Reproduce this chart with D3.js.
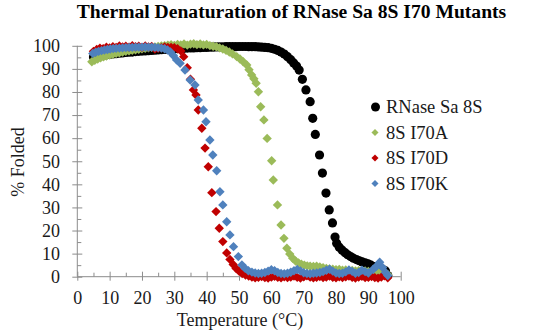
<!DOCTYPE html>
<html><head><meta charset="utf-8">
<script src="https://cdn.jsdelivr.net/npm/d3@7"></script>
<style>
body{margin:0;background:#fff}
svg{display:block}
svg text{font-family:"Liberation Serif","Times New Roman",serif !important}
</style>
</head><body>
<svg id="c" width="556" height="333"></svg>
<script>
const title = "Thermal Denaturation of RNase Sa 8S I70 Mutants";
const xTitle = "Temperature (°C)";
const yTitle = "% Folded";
const xTicks = [0,10,20,30,40,50,60,70,80,90,100];
const yTicks = [0,10,20,30,40,50,60,70,80,90,100];
const xMinor = [5,15,25,35,45,55,65,75,85,95];
const yMinor = [5,15,25,35,45,55,65,75,85,95];
const seriesNames = ["RNase Sa 8S","8S I70A","8S I70D","8S I70K"];
const seriesColors = ["#000000","#9BBB59","#C00000","#4F81BD"];

// RNase Sa 8S (black circles)
const wtT = [5,6,7,8,9,10,11,12,13,14,15,16,17,18,19,20,21,22,23,24,25,26,27,28,29,30,31,32,33,34,35,36,37,38,39,40,41,42,43,44,45,46,47,48,49,50,51,52,53,54,55,56,57,58,59,60,61,62,63,64,65,66,66.9,67.8,68.6,69.6,70.7,72.0,72.8,73.6,74.9,75.8,76.9,77.9,78.9,79.7,80.2,81.0,81.9,82.8,83.6,84.5,85.4,86.3,87.2,88.1,89.0,89.9,90.8,91.7,92.6,93.5,94.4,95.3,96.0];
const wtY = [95.2,95.5,95.7,95.9,96.1,96.3,96.5,96.6,96.8,96.9,97.1,97.2,97.3,97.5,97.6,97.7,97.8,97.9,98.0,98.1,98.2,98.3,98.4,98.5,98.6,98.7,98.8,98.9,98.9,99.0,99.1,99.1,99.2,99.2,99.3,99.3,99.4,99.4,99.5,99.5,99.5,99.6,99.6,99.6,99.6,99.7,99.7,99.7,99.6,99.6,99.6,99.5,99.4,99.3,99.2,98.9,98.5,98.0,97.3,96.4,95.3,94.0,92.6,91.2,89.5,85.5,80.9,75.8,68.6,61.6,52.7,44.9,36.2,28.9,23.3,17.2,14.5,12.8,11.5,10.4,9.5,8.7,8.0,7.4,6.9,6.4,6.0,5.6,5.0,4.4,4.0,3.6,3.2,2.5,0.5];

// 8S I70A (green diamonds)
const aT = [4.5,5.4,6.3,7.2,8.1,9,10,11,12,13,14,15,16,17,18,19,20,21,22,23,24,25,26,27,28,29,30,31,32,33,34,35,36,37,38,39,40,41,42,43,44,45,46,47,48,49.3,50.3,51.3,52.4,53.1,53.9,54.6,55.3,56.0,56.7,57.7,58.7,60.1,60.6,61.9,63.0,63.9,64.8,65.7,66.6,67.5,68.4,69.3,70.2,71.1,72,73,74,75,76,77,78,79,80,81,82,83,84,85,86,87,88,89,90,91,92,93,94,95,96];
const aY = [93.1,93.7,94.3,94.8,95.2,95.6,96.0,96.3,96.7,97.0,97.3,97.6,97.8,98.1,98.3,98.5,98.7,98.9,99.1,99.3,99.5,99.7,99.9,100.1,100.3,100.5,100.2,100.6,100.4,100.8,100.3,100.7,100.9,100.5,100.8,100.4,100.6,100.1,99.8,99.6,99.1,98.6,98.0,97.3,96.5,95.3,94.3,93.1,91.7,89.6,87.4,85.7,83.8,80.1,73.6,67.9,59.9,50.2,41.9,31.1,22.4,16.6,12.3,9.8,8.0,6.8,6.0,5.4,5.0,4.7,4.5,4.4,4.5,4.2,3.9,3.6,3.4,3.2,3.0,3.1,2.8,2.9,2.6,2.7,2.5,2.6,2.4,2.5,2.3,2.2,2.4,2.1,2.0,1.6,1.0];

// 8S I70D (red diamonds)
const dT = [5,6,7,8,9,10,11,12,13,14,15,16,17,18,19,20,21,22,23,24,25,26,27,28,29,30,31,32,32.9,34.0,35.0,35.9,36.7,37.4,38.5,39.5,40.5,41.6,42.9,43.9,45.0,46.2,47.2,48.2,49.1,50.0,51.0,52.0,53,54,55,56,57,58,59,60,61,62,63,64,65,66,67,68,69,70,71,72,73,74,75,76,77,78,79,80,81,82,83,84,85,86,87,88,89,90,91,92,93,94,95,96];
const dY = [97.6,98.4,99.0,98.8,99.4,99.1,99.6,99.3,99.9,99.5,99.8,99.4,100.0,99.6,99.8,99.3,99.9,99.5,99.7,98.6,98.9,99.2,99.5,99.3,99.3,99.2,98.7,97.8,95.3,90.5,85.5,80.9,78.7,72.2,64.3,55.7,47.6,36.4,28.2,21.0,15.2,10.3,7.5,5.3,3.6,2.4,1.4,0.7,0.3,-0.2,-0.5,-0.3,0.1,-0.4,-0.6,-0.2,0.2,-0.3,-0.5,0.0,-0.4,-0.2,0.3,-0.3,-0.6,-0.1,0.4,-0.2,-0.5,-0.3,0.1,-0.4,-0.2,0.3,-0.3,-0.5,0.0,-0.4,-0.1,0.3,-0.3,-0.6,-0.2,0.2,-0.4,-0.3,0.1,-0.4,-0.6,-0.2,0.4,-0.5];

// 8S I70K (blue diamonds)
const kT = [4.8,5.7,6.6,7.5,8.4,9.3,10.2,11.1,12,13,14,15,16,17,18,19,20,21,22,23,24,25,26,27,27.9,28.8,29.7,30.7,31.8,33.3,34.9,36.4,37.4,39.0,39.8,41.0,41.9,43.1,44.1,45.0,46.2,47.2,48.3,49.8,50.9,51.9,52.9,54,55,56,57,58,59,60,61,62,63,64,65,66,67,68,69,70,71,72,73,74,75,76,77,78,79,80,81,82,83,84,85,86,87,88,89,90,91.5,92.5,93.5,94.4,95.3,96.0];
const kY = [96.7,97.2,97.6,97.9,98.2,98.4,98.6,98.8,98.9,99.0,99.1,99.2,99.3,99.3,99.4,99.4,99.4,99.5,99.4,99.4,99.3,99.2,99.0,98.7,98.2,97.3,95.8,93.9,92.4,89.5,85.2,83.0,76.5,72.2,67.1,59.2,52.7,45.9,36.8,31.1,23.8,18.1,13.0,8.7,5.1,3.6,2.6,2.0,1.6,1.4,1.5,1.8,2.4,3.0,2.6,1.8,1.4,1.3,1.5,1.9,2.6,3.1,2.5,1.7,1.4,1.3,1.5,1.6,1.8,2.2,2.8,3.2,2.4,1.6,1.4,1.5,2.1,2.9,2.3,1.5,1.8,2.8,2.2,1.6,3.2,4.5,6.3,4.0,1.8,0.5];

const FONT = '"Liberation Serif","Times New Roman",serif';
const svg = d3.select("#c");
const x = d3.scaleLinear().domain([0,100]).range([77.3,400.7]);
const y = d3.scaleLinear().domain([0,100]).range([276.7,45.8]);
const axisColor = "#8c8c8c";
const labelColor = "#1a1a1a";

// Title
svg.append("text").attr("x",291.5).attr("y",17.8).attr("text-anchor","middle")
  .style("font-family",FONT).attr("font-size",19.6).attr("font-weight","bold").attr("fill","#000").text(title);

// X axis
const gx = svg.append("g").attr("transform",`translate(0,${y(0)})`)
  .call(d3.axisBottom(x).tickValues(xTicks).tickSize(4).tickPadding(0));
gx.attr("font-family",null).attr("font-size",null);
gx.selectAll("line").attr("y1",-5).attr("y2",4);
gx.selectAll("text").attr("y",27).attr("dy",0).style("font-family",FONT).style("font-size","18px").attr("fill",labelColor);
const gxm = svg.append("g").attr("transform",`translate(0,${y(0)})`)
  .call(d3.axisBottom(x).tickValues(xMinor).tickSize(-4).tickFormat(""));

// Y axis
const gy = svg.append("g").attr("transform",`translate(${x(0)},0)`)
  .call(d3.axisLeft(y).tickValues(yTicks).tickSize(5).tickPadding(0));
gy.attr("font-family",null).attr("font-size",null);
gy.selectAll("line").attr("x1",5).attr("x2",-5);
gy.selectAll("text").attr("x",-17.3).style("font-family",FONT).style("font-size","18px").attr("fill",labelColor);
const gym = svg.append("g").attr("transform",`translate(${x(0)},0)`)
  .call(d3.axisLeft(y).tickValues(yMinor).tickSize(-4).tickFormat(""));

[gx,gxm,gy,gym].forEach(g=>{
  g.select(".domain").remove();
  g.selectAll("line").attr("stroke",axisColor);
});
// axis lines
svg.append("line").attr("x1",x(0)).attr("x2",x(100)).attr("y1",y(0)).attr("y2",y(0)).attr("stroke",axisColor);
svg.append("line").attr("x1",x(0)).attr("x2",x(0)).attr("y1",y(0)).attr("y2",y(100)).attr("stroke",axisColor);

// Axis titles
svg.append("text").attr("x",240).attr("y",325.5).attr("text-anchor","middle")
  .style("font-family",FONT).attr("font-size",18).attr("fill",labelColor).text(xTitle);
svg.append("text").attr("transform","translate(24,162) rotate(-90)").attr("text-anchor","middle")
  .style("font-family",FONT).attr("font-size",18).attr("fill",labelColor).text(yTitle);

// Data
function pts(T,Y){ return T.map((t,i)=>({t:t,v:Y[i]})); }
const diamond = d3.symbol().type(d3.symbolSquare).size(44);
const diamondL = d3.symbol().type(d3.symbolSquare).size(25);

const plot = svg.append("g");
plot.append("g").selectAll("circle").data(pts(wtT,wtY)).join("circle")
  .attr("cx",d=>x(d.t)).attr("cy",d=>y(d.v)).attr("r",4.6).attr("fill",seriesColors[0]);
[[aT,aY,1],[dT,dY,2],[kT,kY,3]].forEach(([T,Y,ci])=>{
  plot.append("g").selectAll("path").data(pts(T,Y)).join("path")
    .attr("d",diamond)
    .attr("transform",d=>`translate(${x(d.t)},${y(d.v)}) rotate(45)`)
    .attr("fill",seriesColors[ci]);
});

// Legend
const legY = [107,132.5,158,183.5];
const leg = svg.append("g");
seriesNames.forEach((n,i)=>{
  if(i===0){
    leg.append("circle").attr("cx",375.5).attr("cy",legY[i]).attr("r",4.5).attr("fill",seriesColors[i]);
  } else {
    leg.append("path").attr("d",diamondL).attr("transform",`translate(375,${legY[i]}) rotate(45)`).attr("fill",seriesColors[i]);
  }
  leg.append("text").attr("x",386).attr("y",legY[i]).attr("dy","0.35em")
    .style("font-family",FONT).attr("font-size",18.5).attr("fill",labelColor).text(n);
});
</script>
</body></html>
